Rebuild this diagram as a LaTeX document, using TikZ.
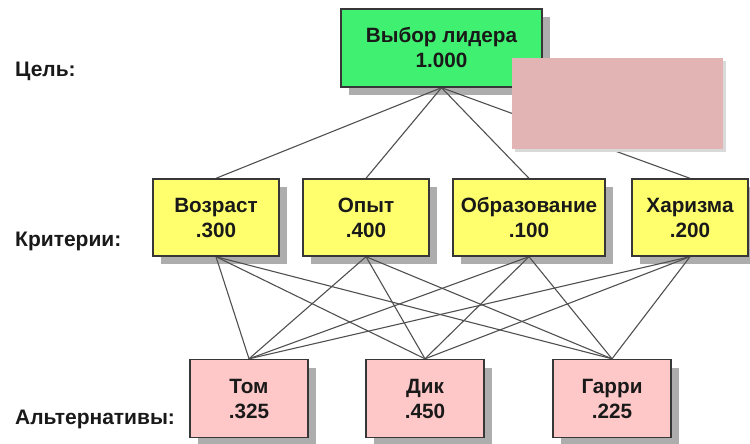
\documentclass[tikz,border=0pt]{standalone}
\usepackage{fontspec}
\setmainfont{Liberation Sans}
\usetikzlibrary{shadows}
\definecolor{goalgreen}{RGB}{64,240,112}
\definecolor{crityellow}{RGB}{255,255,110}
\definecolor{altpink}{RGB}{255,200,200}
\definecolor{coverpink}{RGB}{226,180,180}
\definecolor{edgegray}{RGB}{80,80,80}
\definecolor{bordergray}{RGB}{55,55,55}
\tikzset{
  box/.style={draw=bordergray, line width=1.4pt, rectangle, align=center,
    font=\fontsize{20.7}{25}\selectfont\bfseries, text=black!90},
  shadowed/.style={drop shadow={shadow xshift=8pt, shadow yshift=-8pt, fill=black!32, opacity=1}},
  goalbox/.style={box, fill=goalgreen, minimum width=201pt, minimum height=78pt},
  critbox/.style={box, fill=crityellow, minimum height=77pt},
  altbox/.style={box, fill=altpink, minimum width=118pt, minimum height=78pt},
  link/.style={draw=edgegray, line width=1.1pt},
  levellabel/.style={anchor=base west, inner sep=0pt, font=\fontsize{21}{24}\selectfont\bfseries, text=black!90},
  cover/.style={fill=coverpink, draw=none, rectangle, minimum width=211pt, minimum height=91pt,
    drop shadow={shadow xshift=3pt, shadow yshift=-3pt, fill=black!15, opacity=1}}
}
\begin{document}
\begin{tikzpicture}[x=1pt, y=-1pt]
\useasboundingbox (0,0) rectangle (750,444);
% shadows and positions
\node[goalbox, shadowed] (goal) at (441.5,48) {Выбор лидера\\1.000};
\node[critbox, shadowed, minimum width=126pt] (age) at (216,217.5) {Возраст\\.300};
\node[critbox, shadowed, minimum width=126pt] (exp) at (366,217.5) {Опыт\\.400};
\node[critbox, shadowed, minimum width=152pt] (edu) at (529,217.5) {Образование\\.100};
\node[critbox, shadowed, minimum width=116pt] (cha) at (690,217.5) {Харизма\\.200};
\node[altbox, shadowed] (tom) at (249,398.5) {Том\\.325};
\node[altbox, shadowed] (dick) at (425,398.5) {Дик\\.450};
\node[altbox, shadowed] (harry) at (612,398.5) {Гарри\\.225};
% connectors
\foreach \c in {age,exp,edu,cha}{
  \draw[link] (goal.south) -- (\c.north);
  \foreach \a in {tom,dick,harry}{
    \draw[link] (\c.south) -- (\a.north);
  }
}
% boxes over line ends
\node[goalbox] at (goal) {Выбор лидера\\1.000};
\node[critbox, minimum width=126pt] at (age) {Возраст\\.300};
\node[critbox, minimum width=126pt] at (exp) {Опыт\\.400};
\node[critbox, minimum width=152pt] at (edu) {Образование\\.100};
\node[critbox, minimum width=116pt] at (cha) {Харизма\\.200};
\node[altbox] at (tom) {Том\\.325};
\node[altbox] at (dick) {Дик\\.450};
\node[altbox] at (harry) {Гарри\\.225};
\node[cover] (patch) at (617.5,103.5) {};
\node[levellabel] (lgoal) at (15,77) {Цель:};
\node[levellabel] (lcrit) at (15,246) {Критерии:};
\node[levellabel] (lalt) at (15,424) {Альтернативы:};
\end{tikzpicture}
\end{document}
